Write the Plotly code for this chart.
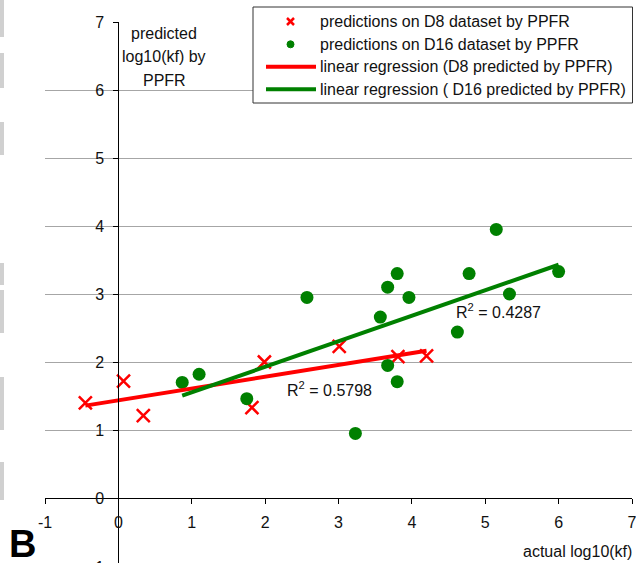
import numpy as np
import plotly.graph_objects as go

# ---------------- data ----------------
d8_actual = [-0.45, 0.07, 0.34, 1.82, 1.99, 3.01, 3.81, 4.20]
d8_pred = [1.40, 1.72, 1.21, 1.33, 2.00, 2.23, 2.08, 2.09]

d16_actual = [0.87, 1.10, 1.75, 2.57, 3.23, 3.57, 3.67, 3.80, 3.96, 3.67, 3.80, 4.62, 4.78, 5.15, 5.33, 6.00]
d16_pred = [1.70, 1.82, 1.46, 2.95, 0.95, 2.66, 3.10, 3.30, 2.95, 1.95, 1.71, 2.44, 3.30, 3.95, 3.00, 3.33]

x_ticks = [-1, 0, 1, 2, 3, 4, 5, 6, 7]
y_ticks = [0, 1, 2, 3, 4, 5, 6, 7]

r2_d8 = "R<sup>2</sup> = 0.5798"
r2_d16 = "R<sup>2</sup> = 0.4287"

legend_labels = [
    "predictions on D8 dataset by PPFR",
    "predictions on D16 dataset by PPFR",
    "linear regression (D8 predicted by PPFR)",
    "linear regression ( D16 predicted by PPFR)",
]
y_title_lines = ["predicted", "log10(kf) by", "PPFR"]
x_title = "actual log10(kf)"
panel_label = "B"

# ---------------- layout geometry ----------------
W, H = 636, 563
ML, MR, MT, MB = 45, 4, 22, 0
PW, PH = W - ML - MR, H - MT - MB
Y_TOP = 7
Y_LO = Y_TOP - PH / 68.0
X_RANGE = [-1, 7]


def px(x):
    return (x - ML) / PW


def py(y):
    return (H - MB - y) / PH


FONT = "Liberation Sans, Arial, sans-serif"
TXT = "#111111"
FS = 16
RED = "#ff0000"
GREEN = "#008000"


def fit(x, y):
    x = np.asarray(x)
    y = np.asarray(y)
    m, b = np.polyfit(x, y, 1)
    xs = np.array([x.min(), x.max()])
    return xs, m * xs + b


fx8, fy8 = fit(d8_actual, d8_pred)
fx16, fy16 = fit(d16_actual, d16_pred)

fig = go.Figure()
fig.add_trace(go.Scatter(
    x=d8_actual, y=d8_pred, mode="markers", name=legend_labels[0],
    marker=dict(symbol="x-thin", size=13, line=dict(color=RED, width=2.5), color=RED),
))
fig.add_trace(go.Scatter(
    x=d16_actual, y=d16_pred, mode="markers", name=legend_labels[1],
    marker=dict(symbol="circle", size=13, color=GREEN),
))
fig.add_trace(go.Scatter(
    x=fx8, y=fy8, mode="lines", name=legend_labels[2],
    line=dict(color=RED, width=4),
))
fig.add_trace(go.Scatter(
    x=fx16, y=fy16, mode="lines", name=legend_labels[3],
    line=dict(color=GREEN, width=4),
))

annotations = []
shapes = []

# y-axis title (three lines)
for i, t in enumerate(y_title_lines):
    annotations.append(dict(
        text=t, xref="paper", yref="paper", x=px(164), y=py([33, 56.5, 80][i]),
        xanchor="center", yanchor="middle", showarrow=False,
        font=dict(family=FONT, size=FS, color=TXT),
    ))

# x-axis title
annotations.append(dict(
    text=x_title, xref="paper", yref="paper", x=px(634), y=py(551),
    xanchor="right", yanchor="middle", showarrow=False,
    font=dict(family=FONT, size=FS, color=TXT),
))

# panel label
annotations.append(dict(
    text="<b>" + panel_label + "</b>", xref="paper", yref="paper", x=px(22), y=py(544),
    xanchor="center", yanchor="middle", showarrow=False,
    font=dict(family=FONT, size=38, color="#000000"),
))

# R^2 labels
annotations.append(dict(
    text=r2_d8, xref="paper", yref="paper", x=px(285), y=py(389),
    xanchor="left", yanchor="middle", showarrow=False,
    font=dict(family=FONT, size=FS, color=TXT),
))
annotations.append(dict(
    text=r2_d16, xref="paper", yref="paper", x=px(454), y=py(311),
    xanchor="left", yanchor="middle", showarrow=False,
    font=dict(family=FONT, size=FS, color=TXT),
))

# clipped "-1" tick label at bottom of y axis
annotations.append(dict(
    text="-1", xref="paper", yref="paper", x=px(106), y=py(567),
    xanchor="right", yanchor="middle", showarrow=False,
    font=dict(family=FONT, size=FS, color=TXT),
))

# manual legend
shapes.append(dict(type="rect", xref="paper", yref="paper",
                   x0=px(253), x1=px(632.5), y0=py(7), y1=py(103),
                   line=dict(color="#333333", width=1), fillcolor="white", layer="above"))
item_y = [21.5, 44.3, 66.7, 89.3]
for i, lab in enumerate(legend_labels):
    annotations.append(dict(
        text=lab, xref="paper", yref="paper", x=px(318), y=py(item_y[i]),
        xanchor="left", yanchor="middle", showarrow=False,
        font=dict(family=FONT, size=FS, color=TXT),
    ))
# legend symbols
cx, s = 290.5, 3.5
shapes.append(dict(type="line", xref="paper", yref="paper",
                   x0=px(cx - s), x1=px(cx + s), y0=py(item_y[0] - s), y1=py(item_y[0] + s),
                   line=dict(color=RED, width=2.5), layer="above"))
shapes.append(dict(type="line", xref="paper", yref="paper",
                   x0=px(cx - s), x1=px(cx + s), y0=py(item_y[0] + s), y1=py(item_y[0] - s),
                   line=dict(color=RED, width=2.5), layer="above"))
shapes.append(dict(type="circle", xref="paper", yref="paper",
                   x0=px(cx - 3.5), x1=px(cx + 3.5), y0=py(item_y[1] - 3.5), y1=py(item_y[1] + 3.5),
                   line=dict(color=GREEN, width=1), fillcolor=GREEN, layer="above"))
shapes.append(dict(type="line", xref="paper", yref="paper",
                   x0=px(266), x1=px(316), y0=py(item_y[2]), y1=py(item_y[2]),
                   line=dict(color=RED, width=4), layer="above"))
shapes.append(dict(type="line", xref="paper", yref="paper",
                   x0=px(266), x1=px(316), y0=py(item_y[3]), y1=py(item_y[3]),
                   line=dict(color=GREEN, width=4), layer="above"))

# gray cropping remnants at the left edge
for (a, b) in [(0, 37), (53, 88), (122, 155), (263, 285), (290, 333), (377, 430), (462, 500)]:
    shapes.append(dict(type="rect", xref="paper", yref="paper",
                       x0=px(0), x1=px(4), y0=py(b), y1=py(a),
                       line=dict(width=0), fillcolor="#d0d0d0", layer="above"))

fig.update_layout(
    width=W, height=H,
    margin=dict(l=ML, r=MR, t=MT, b=MB, pad=0),
    plot_bgcolor="white", paper_bgcolor="white",
    showlegend=False,
    annotations=annotations, shapes=shapes,
    xaxis=dict(
        range=X_RANGE, tickvals=x_ticks, ticktext=[str(v) for v in x_ticks],
        showgrid=False, zeroline=False,
        showline=True, linecolor="#000000", linewidth=1,
        ticks="outside", ticklen=5, tickwidth=1, tickcolor="#000000",
        anchor="free", position=(0 - Y_LO) / (Y_TOP - Y_LO),
        tickfont=dict(family=FONT, size=FS, color=TXT),
        ticklabelstandoff=5, ticklabeloverflow="allow",
    ),
    yaxis=dict(
        range=[Y_LO, Y_TOP], tickvals=y_ticks, ticktext=[str(v) for v in y_ticks],
        showgrid=True, gridcolor="#a6a6a6", gridwidth=1, zeroline=False,
        showline=True, linecolor="#000000", linewidth=1,
        ticks="outside", ticklen=5, tickwidth=1, tickcolor="#000000",
        anchor="free", position=(0 - X_RANGE[0]) / (X_RANGE[1] - X_RANGE[0]),
        tickfont=dict(family=FONT, size=FS, color=TXT),
        ticklabelstandoff=6, ticklabeloverflow="allow",
    ),
)

fig.write_html("out.html")
